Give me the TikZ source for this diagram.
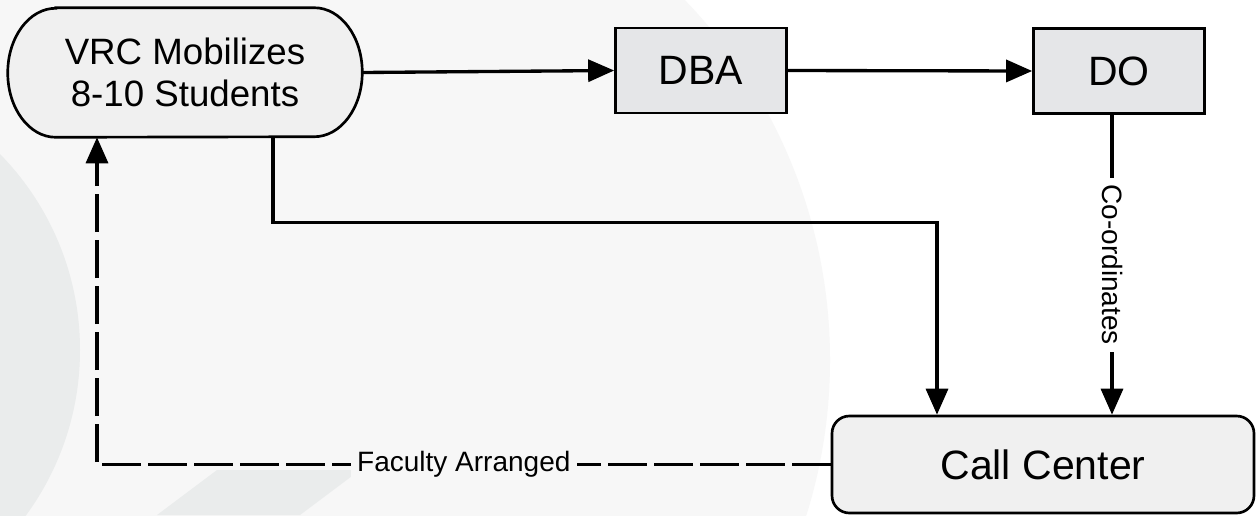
\documentclass[tikz,border=0pt]{standalone}
\usepackage{fontspec}
\setmainfont{Liberation Sans}
\usetikzlibrary{arrows.meta,calc}
\pgfdeclarelayer{back}
\pgfsetlayers{back,main}
\definecolor{paper}{HTML}{F7F7F7}
\definecolor{washgrey}{HTML}{EAECEC}
\definecolor{softfill}{HTML}{F0F0F0}
\definecolor{boxfill}{HTML}{E5E6E8}
\tikzset{
  startbox/.style={minimum width=265.5pt, minimum height=96.75pt, inner sep=0pt, align=center,
    font=\fontsize{27.5}{31.5}\selectfont},
  startoutline/.style={draw=black, line width=2pt, fill=softfill},
  unitbox/.style={draw=black, line width=2pt, fill=boxfill,
    minimum width=128.25pt, minimum height=63.75pt, inner sep=0pt,
    font=\fontsize{30.75}{36}\selectfont},
  centerbox/.style={draw=black, line width=2pt, fill=softfill, rounded corners=13pt,
    minimum width=316.5pt, minimum height=72.75pt, inner sep=0pt,
    font=\fontsize{30.75}{36}\selectfont},
  flow/.style={draw=black, line width=2.5pt,
    -{Triangle[length=19.5pt,width=16.5pt]}},
  dashflow/.style={flow, dash pattern=on 29pt off 5.5pt},
  edgelabel/.style={font=\fontsize{21}{25}\selectfont, inner xsep=5pt, inner ysep=1pt}
}
\begin{document}
\begin{tikzpicture}[x=0.75pt, y=-0.75pt]
  % page and soft background shapes
  \path[use as bounding box] (0,0) rectangle (1260,515);
  \begin{pgfonlayer}{back}
    \begin{scope}
      \clip (0,0) rectangle (1260,515);
      \fill[white] (0,0) rectangle (1260,515);
      \fill[paper] (311,360) circle[radius=389.25pt];
      \fill[washgrey] (-200,350) circle[radius=210pt];
      \fill[washgrey] (157,515) -- (217,470) -- (360,470) -- (300,515) -- cycle;
    \end{scope}
  \end{pgfonlayer}

  % nodes
  \node[startbox] (vrc) at (185,72.5) {VRC Mobilizes\\8-10 Students};
  \node[unitbox] (dba) at (701,70.5) {DBA};
  \node[unitbox] (do) at (1119,71) {DO};
  \node[centerbox] (cc) at (1043,464.5) {Call Center};

  % terminator outline with elliptical ends, behind its text
  \begin{pgfonlayer}{back}
    \path[startoutline] ($(vrc.north west)+(48,0)$) -- ($(vrc.north east)+(-48,0)$)
      arc[start angle=90, end angle=-90, x radius=36pt, y radius=48.375pt]
      -- ($(vrc.south west)+(48,0)$)
      arc[start angle=270, end angle=90, x radius=36pt, y radius=48.375pt] -- cycle;
  \end{pgfonlayer}

  % connectors
  \draw[flow] (vrc.east) -- (dba.west);
  \draw[flow] (dba.east) -- (do.west);

  \coordinate (dodrop) at ($(do.south)+(-7,0)$);
  \draw[flow] (dodrop) -- node[edgelabel, fill=white, rotate=-90] {Co-ordinates} (dodrop |- cc.north);

  \coordinate (vout) at ($(vrc.south)+(88,0)$);
  \coordinate (ccin) at ($(cc.north)+(-106,0)$);
  \coordinate (bend) at ($(vout)+(0,85)$);
  \draw[flow] (vout) -- (bend) -| (ccin);

  \coordinate (vin) at ($(vrc.south)+(-88,0)$);
  \draw[dashflow] (cc.west) -- node[edgelabel, fill=paper] {Faculty Arranged} (vin |- cc.west) -- (vin);
\end{tikzpicture}
\end{document}
